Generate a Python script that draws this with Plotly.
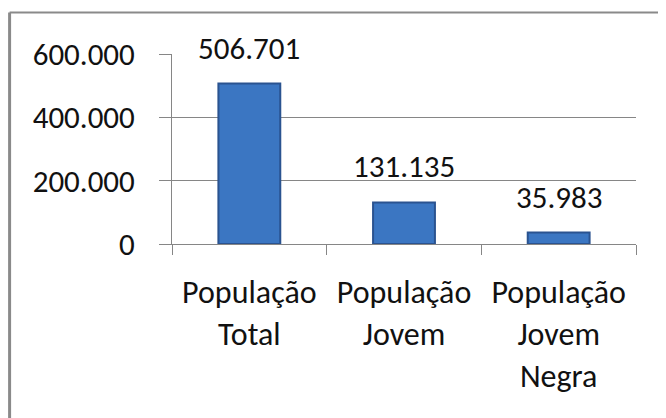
import plotly.graph_objects as go

categories = ["População<br>Total", "População<br>Jovem", "População<br>Jovem<br>Negra"]
values = [506701, 131135, 35983]
value_labels = ["506.701", "131.135", "35.983"]
tick_vals = [0, 200000, 400000, 600000]
tick_text = ["0", "200.000", "400.000", "600.000"]

font_family = "Carlito, Lato, sans-serif"
grid_color = "#868686"

fig = go.Figure()
fig.add_trace(
    go.Bar(
        x=categories,
        y=values,
        marker=dict(color="#3B76C2", line=dict(color="#2A5390", width=2)),
        width=0.4,
        hoverinfo="none",
    )
)

# value labels sit well above the bar top, like the Excel original
for cat, val, lab in zip(categories, values, value_labels):
    fig.add_annotation(
        x=cat, y=val, text=lab, showarrow=False,
        yanchor="middle", yshift=36,
        font=dict(family=font_family, size=31, color="#111111"),
    )

fig.update_layout(
    width=666,
    height=418,
    showlegend=False,
    plot_bgcolor="white",
    paper_bgcolor="white",
    margin=dict(l=164, r=38, t=46, b=182, pad=0),
    font=dict(family=font_family, size=31, color="#111111"),
    shapes=[
        # only the left and top edges of the chart frame are visible
        dict(type="line", xref="paper", yref="paper", x0=-0.350, x1=-0.350, y0=-1.0, y1=1.2184,
             line=dict(color="#8a8a8a", width=3)),
        dict(type="line", xref="paper", yref="paper", x0=-0.350, x1=1.2, y0=1.2184, y1=1.2184,
             line=dict(color="#8a8a8a", width=2)),
    ],
)

fig.update_xaxes(
    type="category",
    automargin=False,
    showgrid=False,
    showline=True,
    linecolor=grid_color,
    linewidth=1,
    ticks="outside",
    tickson="boundaries",
    ticklen=10,
    tickcolor=grid_color,
    ticklabelstandoff=20,
    tickfont=dict(size=32),
)
fig.update_yaxes(
    range=[0, 600000],
    automargin=False,
    tickvals=tick_vals,
    ticktext=tick_text,
    showgrid=True,
    gridcolor=grid_color,
    gridwidth=1,
    showline=True,
    linecolor=grid_color,
    linewidth=1,
    ticks="outside",
    ticklen=12,
    tickcolor=grid_color,
    ticklabelstandoff=18,
    zeroline=False,
    tickfont=dict(size=31),
)

fig.write_html("out.html")
